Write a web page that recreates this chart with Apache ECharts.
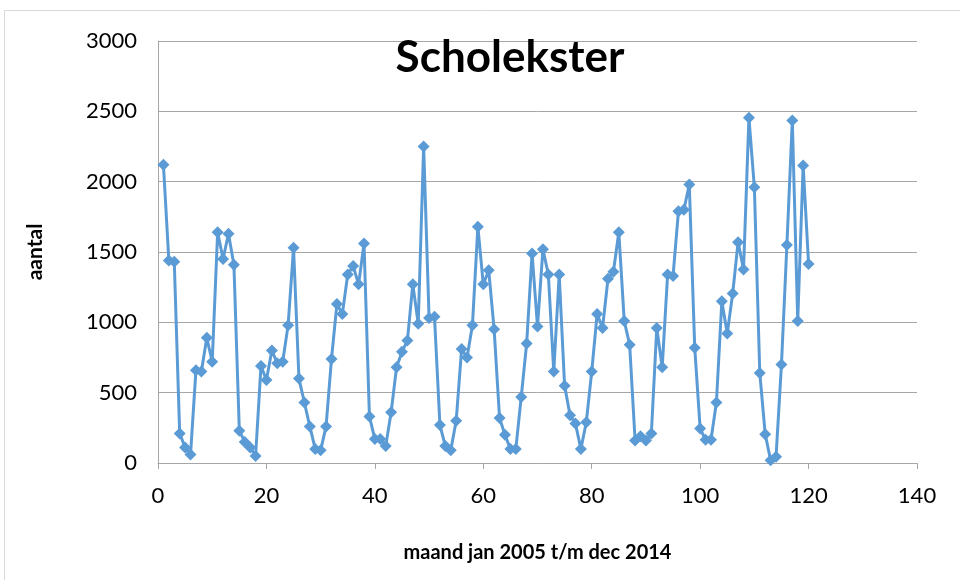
<!DOCTYPE html>
<html>
<head>
<meta charset="utf-8">
<script src="https://cdn.jsdelivr.net/npm/echarts@6/dist/echarts.min.js"></script>
<style>
  html, body { margin: 0; padding: 0; background: #fff; }
  #chart { width: 960px; height: 580px; }
</style>
</head>
<body>
<div id="chart"></div>
<script>
// maandnummer 1..120 (jan 2005 t/m dec 2014)
const aantal = [
  2120, 1440, 1430, 210, 110, 60, 660, 650, 890, 720,
  1640, 1450, 1630, 1410, 230, 150, 110, 50, 690, 590,
  800, 710, 720, 980, 1530, 600, 430, 260, 100, 90,
  260, 740, 1130, 1060, 1340, 1400, 1270, 1560, 330, 170,
  170, 120, 360, 680, 790, 870, 1270, 990, 2250, 1030,
  1040, 270, 120, 90, 300, 810, 750, 980, 1680, 1270,
  1370, 950, 320, 200, 100, 100, 470, 850, 1490, 970,
  1520, 1340, 650, 1340, 550, 340, 280, 100, 290, 650,
  1060, 960, 1310, 1360, 1640, 1010, 840, 160, 190, 160,
  210, 960, 680, 1340, 1330, 1790, 1800, 1980, 820, 245,
  165, 165, 430, 1150, 920, 1205, 1570, 1375, 2455, 1960,
  640, 205, 20, 45, 700, 1550, 2435, 1010, 2115, 1415
]

const points = aantal.map((v, i) => [i + 1, v])

const chart = echarts.init(document.getElementById('chart'))
chart.setOption({
  animation: false,
  title: {
    text: 'Scholekster',
    left: 505,
    top: 31,
    textAlign: 'center',
    textStyle: {
      fontFamily: 'Lato',
      fontWeight: 'bold',
      fontSize: 44,
      color: '#000'
    }
  },
  graphic: [
    {
      type: 'rect',
      shape: { x: 4.5, y: 10.5, width: 980, height: 600 },
      style: { fill: 'none', stroke: '#d9d9d9', lineWidth: 1 }
    }
  ],
  grid: {
    left: 158,
    right: 43,
    top: 41,
    bottom: 117
  },
  xAxis: {
    type: 'value',
    min: 0,
    max: 140,
    interval: 20,
    name: 'maand jan 2005 t/m dec 2014',
    nameLocation: 'middle',
    nameGap: 80,
    nameTextStyle: {
      fontFamily: 'Lato',
      fontWeight: 'bold',
      fontSize: 20,
      color: '#000'
    },
    axisLine: { lineStyle: { color: '#a6a6a6', width: 1 } },
    axisTick: { show: true, length: 6, lineStyle: { color: '#a6a6a6' } },
    axisLabel: {
      fontFamily: 'Lato',
      fontSize: 22,
      color: '#000',
      margin: 22
    },
    splitLine: { show: false }
  },
  yAxis: {
    type: 'value',
    min: 0,
    max: 3000,
    interval: 500,
    name: 'aantal',
    nameLocation: 'middle',
    nameGap: 112,
    nameTextStyle: {
      fontFamily: 'Lato',
      fontWeight: 'bold',
      fontSize: 21,
      color: '#000'
    },
    axisLine: { show: true, lineStyle: { color: '#a6a6a6', width: 1 } },
    axisTick: { show: false },
    axisLabel: {
      fontFamily: 'Lato',
      fontSize: 22,
      color: '#000',
      margin: 21,
      formatter: (v) => String(v)
    },
    splitLine: { lineStyle: { color: '#a6a6a6', width: 1 } }
  },
  series: [
    {
      name: 'aantal',
      type: 'line',
      data: points,
      symbol: 'diamond',
      symbolSize: 12,
      lineStyle: { color: '#5b9bd5', width: 3 },
      itemStyle: { color: '#5b9bd5' }
    }
  ]
})
</script>
</body>
</html>
